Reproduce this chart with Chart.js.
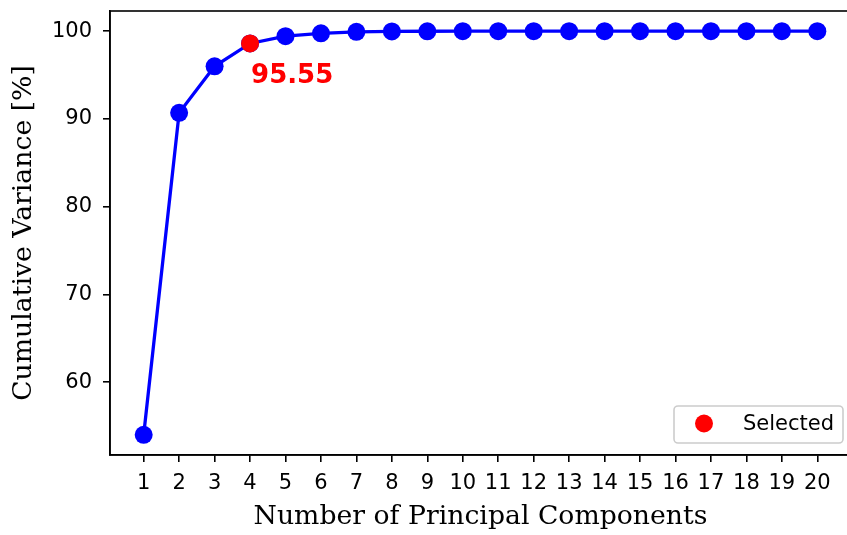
<!DOCTYPE html>
<html>
<head>
<meta charset="utf-8">
<script src="https://cdn.jsdelivr.net/npm/chart.js@4.4.1/dist/chart.umd.min.js"></script>
<style>
  html, body { margin: 0; padding: 0; background: #fff; overflow: hidden; }
  #wrap { width: 847px; height: 535px; overflow: hidden; }
</style>
</head>
<body>
<div id="wrap"><canvas id="chart" width="860" height="535"></canvas></div>
<script>
// ===== DATA =====
const components = [1, 2, 3, 4, 5, 6, 7, 8, 9, 10, 11, 12, 13, 14, 15, 16, 17, 18, 19, 20];
const cumVariance = [54.0, 90.7, 96.0, 98.6, 99.43, 99.76, 99.93, 99.97, 99.99, 100, 100, 100, 100, 100, 100, 100, 100, 100, 100, 100];
const selectedComponent = [4];
const selectedVariance = [98.6];
const selectedLabel = "95.55";
const xTicks = components;
const yTicks = [60, 70, 80, 90, 100];

const mainPoints = components.map((c, i) => ({ x: c, y: cumVariance[i] }));
const selPoints = selectedComponent.map((c, i) => ({ x: c, y: selectedVariance[i] }));

// frame (top / right spines)
const framePlugin = {
  id: "frame",
  afterDraw(chart) {
    const { ctx, chartArea } = chart;
    ctx.save();
    ctx.strokeStyle = "#000";
    ctx.lineWidth = 1.6;
    ctx.strokeRect(chartArea.left, chartArea.top, chartArea.right - chartArea.left, chartArea.bottom - chartArea.top);
    ctx.restore();
  }
};

// "95.55" annotation next to the selected point
const annotationPlugin = {
  id: "annot",
  afterDatasetsDraw(chart) {
    const pt = chart.getDatasetMeta(1).data[0];
    const ctx = chart.ctx;
    ctx.save();
    ctx.fillStyle = "#ff0000";
    ctx.font = "bold 26px 'DejaVu Sans'";
    ctx.textAlign = "left";
    ctx.textBaseline = "alphabetic";
    ctx.fillText(selectedLabel, pt.x + 1, pt.y + 40);
    ctx.restore();
  }
};

// matplotlib style legend, lower right
const legendPlugin = {
  id: "mplLegend",
  afterDraw(chart) {
    const ctx = chart.ctx;
    const ds = chart.data.datasets[1];
    const x = 674, y = 406, w = 169, h = 37;
    ctx.save();
    ctx.fillStyle = "rgba(255,255,255,0.8)";
    ctx.strokeStyle = "#cccccc";
    ctx.lineWidth = 1.6;
    ctx.beginPath();
    ctx.roundRect(x, y, w, h, 4);
    ctx.fill();
    ctx.stroke();
    ctx.fillStyle = ds.pointBackgroundColor;
    ctx.beginPath();
    ctx.arc(x + 30, y + 17.5, 9, 0, Math.PI * 2);
    ctx.fill();
    ctx.fillStyle = "#000";
    ctx.font = "21px 'DejaVu Sans'";
    ctx.textBaseline = "middle";
    ctx.fillText(ds.label, x + 69, y + 18.5);
    ctx.restore();
  }
};

new Chart(document.getElementById("chart"), {
  type: "scatter",
  data: {
    datasets: [
      {
        label: "Cumulative",
        data: mainPoints,
        showLine: true,
        borderColor: "#0000ff",
        borderWidth: 3.3,
        pointBackgroundColor: "#0000ff",
        pointBorderColor: "#0000ff",
        pointRadius: 9,
        pointBorderWidth: 0,
        order: 2
      },
      {
        label: "Selected",
        data: selPoints,
        showLine: false,
        pointBackgroundColor: "#ff0000",
        pointBorderColor: "#ff0000",
        pointRadius: 9,
        pointBorderWidth: 0,
        order: 1
      }
    ]
  },
  options: {
    responsive: false,
    animation: false,
    devicePixelRatio: 1,
    layout: { padding: { top: 11, right: 6, left: 0, bottom: 0 } },
    plugins: {
      legend: { display: false },
      tooltip: { enabled: false }
    },
    scales: {
      x: {
        type: "linear",
        min: 0.05,
        max: 20.95,
        afterBuildTicks: (s) => { s.ticks = xTicks.map(v => ({ value: v })); },
        afterFit: (s) => { s.height = 80; s.paddingLeft = 0; s.paddingRight = 0; },
        grid: { drawOnChartArea: false, drawTicks: true, tickLength: 7, color: "#000", lineWidth: 1.6 },
        border: { display: true, color: "#000", width: 1.6 },
        ticks: { color: "#000", font: { family: "DejaVu Sans", size: 21 }, padding: 9, maxRotation: 0, autoSkip: false },
        title: {
          display: true,
          text: "Number of Principal Components",
          color: "#000",
          font: { family: "DejaVu Serif", size: 26.7 },
          padding: { top: 0, bottom: 2 }
        }
      },
      y: {
        type: "linear",
        min: 51.7,
        max: 102.3,
        afterBuildTicks: (s) => { s.ticks = yTicks.map(v => ({ value: v })); },
        afterFit: (s) => { s.width = 110; s.paddingTop = 0; s.paddingBottom = 0; },
        grid: { drawOnChartArea: false, drawTicks: true, tickLength: 7, color: "#000", lineWidth: 1.6 },
        border: { display: true, color: "#000", width: 1.6 },
        ticks: { color: "#000", font: { family: "DejaVu Sans", size: 21 }, padding: 11 },
        title: {
          display: true,
          text: "Cumulative Variance [%]",
          color: "#000",
          font: { family: "DejaVu Serif", size: 26.7 },
          padding: { top: 8, bottom: 0 }
        }
      }
    }
  },
  plugins: [framePlugin, annotationPlugin, legendPlugin]
});
</script>
</body>
</html>
